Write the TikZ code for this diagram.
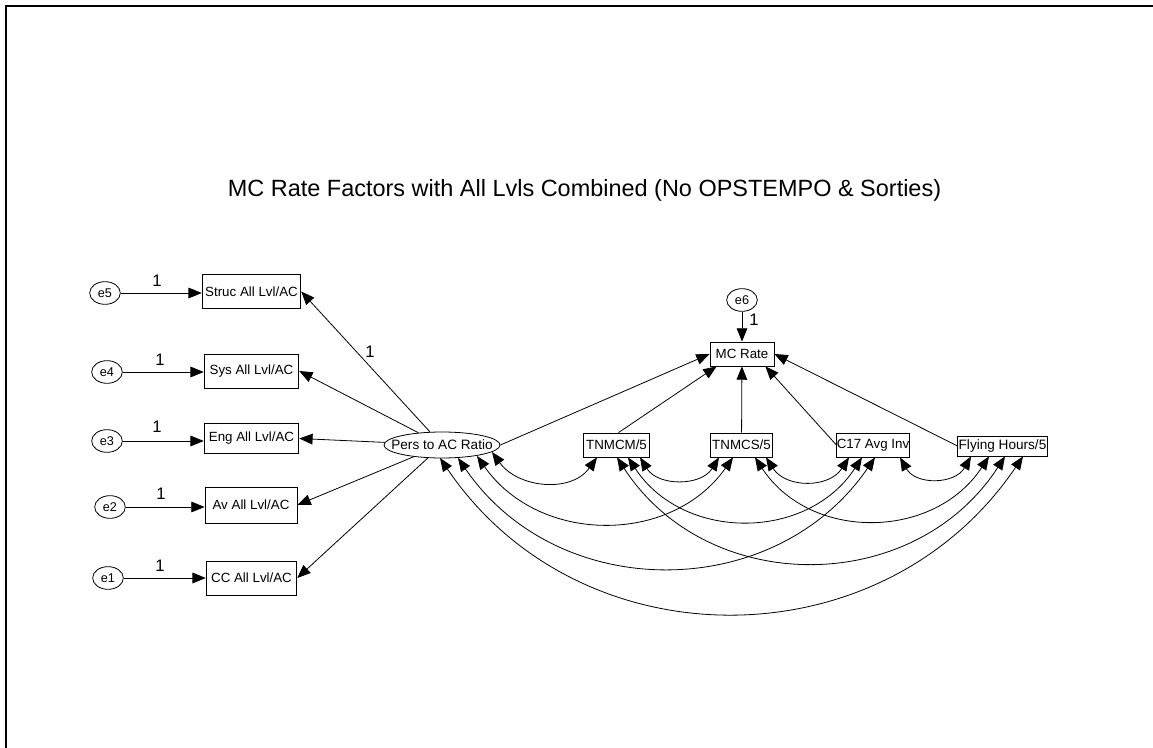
\documentclass[tikz,border=0pt]{standalone}
\usepackage{fontspec}
\setmainfont{Liberation Sans}
\usetikzlibrary{arrows.meta,shapes.geometric,calc}
\begin{document}
\begin{tikzpicture}[x=0.75pt,y=-0.75pt,
  hd/.tip={Triangle[length=10pt,width=8pt]},
  obs/.style={draw,rectangle,inner sep=0pt,font=\fontsize{10}{12}\selectfont,line width=0.6pt},
  err/.style={draw,ellipse,inner sep=0pt,minimum width=23pt,minimum height=17pt,font=\fontsize{9.5}{11}\selectfont,line width=0.6pt},
  lat/.style={draw,ellipse,inner sep=0pt,minimum width=87pt,minimum height=19.5pt,line width=0.6pt},
  txt/.style={inner sep=0pt,font=\fontsize{10.2}{12}\selectfont},
  reg/.style={-hd,line width=0.6pt},
  cov/.style={hd-hd,line width=0.6pt},
  one/.style={inner sep=0pt,font=\fontsize{12.5}{14}\selectfont},
]
\useasboundingbox (0,0) rectangle (1153,748);
\draw[line width=2pt] (6,748) -- (6,6) -- (1160,6);

\node[inner sep=0pt,font=\fontsize{17.6}{20}\selectfont] (title) at (584.5,190) {MC Rate Factors with All Lvls Combined (No OPSTEMPO \& Sorties)};

% error terms
\node[err] (e5) at (105,293) {e5};
\node[err] (e4) at (107,372) {e4};
\node[err] (e3) at (107,441) {e3};
\node[err] (e2) at (110,507) {e2};
\node[err] (e1) at (108,578) {e1};
\node[err] (e6) at (742,300) {e6};

% indicators
\node[obs,minimum width=74pt,minimum height=25pt] (struc) at (251.5,291.5) {Struc All Lvl/AC};
\node[obs,minimum width=71pt,minimum height=25.5pt] (sys) at (251.5,371) {Sys All Lvl/AC};
\node[obs,minimum width=71pt,minimum height=23pt] (eng) at (251.5,438.5) {Eng All Lvl/AC};
\node[obs,minimum width=69pt,minimum height=27pt] (av) at (251,505) {Av All Lvl/AC};
\node[obs,minimum width=68pt,minimum height=25.5pt] (cc) at (251.5,578) {CC All Lvl/AC};

% latent
\node[lat] (pers) at (442,445) {};
\node[txt] (perstxt) at (pers) {Pers to AC Ratio};

% right side
\node[obs,minimum width=48pt,minimum height=18pt] (mc) at (742,354) {MC Rate};
\node[obs,minimum width=49pt,minimum height=18pt] (tnmcm) at (616.5,445) {TNMCM/5};
\node[obs,minimum width=47pt,minimum height=18pt] (tnmcs) at (741.5,445) {TNMCS/5};
\node[obs,minimum width=54pt,minimum height=18pt] (c17) at (873,445) {C17 Avg Inv};
\node[obs,minimum width=67pt,minimum height=15pt] (fh) at (1002.5,446) {};
\node[txt] (fhtxt) at (fh) {Flying Hours/5};

% error paths
\draw[reg] (e5) -- (e5 -| struc.west);
\draw[reg] (e4) -- (e4 -| sys.west);
\draw[reg] (e3) -- (e3 -| eng.west);
\draw[reg] (e2) -- (e2 -| av.west);
\draw[reg] (e1) -- (e1 -| cc.west);
\draw[reg] (e6) -- (mc);
\node[one] (l5) at (157,281) {1};
\node[one] (l4) at (160,360) {1};
\node[one] (l3) at (157,427) {1};
\node[one] (l2) at (161,494) {1};
\node[one] (l1) at (160,566) {1};
\node[one] (l6) at (754,320) {1};

% loadings
\draw[reg] (pers) -- (struc.east);
\draw[reg] (pers) -- (sys.east);
\draw[reg] (pers) -- (eng.east);
\draw[reg] (pers) -- (av.east);
\draw[reg] (pers) -- (cc.east);
\node[one] (l7) at (370,352) {1};

% structural paths
\draw[reg] (pers.east) -- (mc.west);
\draw[reg] ($(tnmcm.north)+(2,0)$) -- ($(mc.south west)+(7,0)$);
\draw[reg] (tnmcs) -- (mc);
\draw[reg] (c17.west) -- ($(mc.south east)+(-9,0)$);
\draw[reg] (fh.west) -- (mc.east);

% covariances: adjacent
\draw[cov] ($(pers.center)+(50,7)$) .. controls +(26,36) and +(-26,36) .. ($(tnmcm.south)+(-19.5,0)$);
\draw[cov] ($(tnmcm.south)+(23.5,0)$) .. controls +(18,29) and +(-18,29) .. ($(tnmcs.south)+(-22.5,0)$);
\draw[cov] ($(tnmcs.south)+(24.5,0)$) .. controls +(20,31) and +(-20,31) .. ($(c17.south)+(-24,0)$);
\draw[cov] ($(c17.south)+(27,0)$) .. controls +(16,28) and +(-16,28) .. ($(fh.south)+(-31.5,0)$);
% skip one
\draw[cov] ($(pers.center)+(35,11)$) .. controls +(62,88) and +(-62,88) .. ($(tnmcs.south)+(-8.5,0)$);
\draw[cov] ($(tnmcm.south)+(11.5,0)$) .. controls +(55,84) and +(-55,84) .. ($(c17.south)+(-11,0)$);
\draw[cov] ($(tnmcs.south)+(13.5,0)$) .. controls +(55,84) and +(-55,84) .. ($(fh.south)+(-13.5,0)$);
% skip two
\draw[cov] ($(pers.center)+(16,13)$) .. controls +(100,146) and +(-100,146) .. ($(c17.south)+(2,0)$);
\draw[cov] ($(tnmcm.south)+(0.5,0)$) .. controls +(91,140) and +(-91,140) .. ($(fh.south)+(2.5,0)$);
% skip three
\draw[cov] ($(pers.center)+(-2,13)$) .. controls +(140,207) and +(-140,207) .. ($(fh.south)+(20.5,0)$);
\end{tikzpicture}
\end{document}
